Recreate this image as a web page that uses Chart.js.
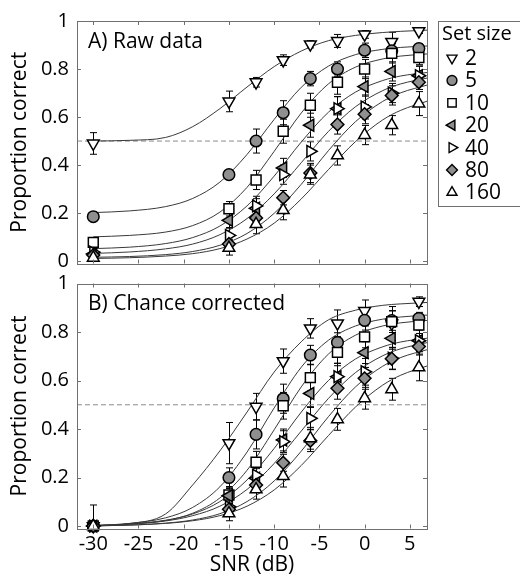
<!DOCTYPE html>
<html>
<head>
<meta charset="utf-8">
<script src="https://cdn.jsdelivr.net/npm/chart.js@4.4.1/dist/chart.umd.min.js"></script>
<style>
    html, body { margin: 0; padding: 0; background: #fff; }
    #wrap { position: relative; width: 520px; height: 578px; }
    #chartRaw { position: absolute; left: 0; top: 0; }
    #chartCorr { position: absolute; left: 0; top: 266px; }
</style>
</head>
<body>
<div id="wrap">
    <canvas id="chartRaw" width="520" height="272"></canvas>
    <canvas id="chartCorr" width="520" height="312"></canvas>
</div>
<script>
// --- data ---
const setSizes = ['2', '5', '10', '20', '40', '80', '160'];
const snr = [-30, -15, -12, -9, -6, -3, 0, 3, 6];
const xTicks = [-30, -25, -20, -15, -10, -5, 0, 5];
const yTicks = [0, 0.2, 0.4, 0.6, 0.8, 1];
const chanceLevel = 0.5;

// A) raw proportion correct
const raw2 = [0.49, 0.665, 0.745, 0.837, 0.903, 0.917, 0.944, 0.913, 0.958];
const raw5 = [0.185, 0.36, 0.50, 0.618, 0.76, 0.80, 0.878, 0.876, 0.885];
const raw10 = [0.078, 0.218, 0.338, 0.541, 0.649, 0.745, 0.80, 0.865, 0.848];
const raw20 = [0.03, 0.17, 0.22, 0.388, 0.566, 0.635, 0.727, 0.79, 0.772];
const raw40 = [0.037, 0.107, 0.23, 0.36, 0.457, 0.635, 0.642, 0.70, 0.772];
const raw80 = [0.025, 0.071, 0.18, 0.264, 0.367, 0.569, 0.612, 0.69, 0.745];
const raw160 = [0.014, 0.055, 0.154, 0.212, 0.36, 0.44, 0.525, 0.566, 0.656];

const rawErr2 = [0.045, 0.043, 0.02, 0.022, 0.015, 0.027, 0.016, 0.04, 0.01];
const rawErr5 = [0.02, 0.02, 0.05, 0.05, 0.03, 0.03, 0.03, 0.03, 0.02];
const rawErr10 = [0.01, 0.03, 0.04, 0.05, 0.05, 0.05, 0.04, 0.04, 0.03];
const rawErr20 = [0.01, 0.03, 0.04, 0.04, 0.05, 0.05, 0.04, 0.04, 0.04];
const rawErr40 = [0.01, 0.03, 0.04, 0.04, 0.04, 0.05, 0.05, 0.04, 0.04];
const rawErr80 = [0.01, 0.02, 0.03, 0.03, 0.04, 0.04, 0.04, 0.04, 0.03];
const rawErr160 = [0.01, 0.03, 0.04, 0.04, 0.04, 0.04, 0.04, 0.04, 0.05];

// B) chance corrected
const cor2 = [0, 0.342, 0.492, 0.68, 0.815, 0.836, 0.887, 0.835, 0.925];
const cor5 = [0, 0.20, 0.378, 0.525, 0.705, 0.757, 0.848, 0.847, 0.856];
const cor10 = [0, 0.128, 0.263, 0.496, 0.612, 0.716, 0.78, 0.843, 0.829];
const cor20 = [0, 0.125, 0.197, 0.355, 0.547, 0.616, 0.715, 0.774, 0.764];
const cor40 = [0, 0.08, 0.21, 0.348, 0.444, 0.616, 0.636, 0.692, 0.764];
const cor80 = [0, 0.069, 0.169, 0.261, 0.352, 0.568, 0.609, 0.69, 0.74];
const cor160 = [0, 0.052, 0.151, 0.206, 0.362, 0.44, 0.527, 0.564, 0.654];

const corErr2 = [0.087, 0.085, 0.055, 0.05, 0.04, 0.055, 0.045, 0.07, 0.02];
const corErr5 = [0.01, 0.04, 0.06, 0.06, 0.04, 0.04, 0.04, 0.04, 0.025];
const corErr10 = [0.01, 0.035, 0.045, 0.055, 0.055, 0.055, 0.045, 0.045, 0.035];
const corErr20 = [0.01, 0.03, 0.04, 0.045, 0.055, 0.055, 0.045, 0.045, 0.045];
const corErr40 = [0.01, 0.03, 0.04, 0.045, 0.045, 0.055, 0.055, 0.045, 0.045];
const corErr80 = [0.01, 0.025, 0.03, 0.035, 0.045, 0.045, 0.045, 0.045, 0.035];
const corErr160 = [0.01, 0.03, 0.04, 0.045, 0.045, 0.045, 0.045, 0.045, 0.055];

// fitted psychometric curves, sampled along SNR
const fitSnr = [-30, -26, -22, -19, -16, -13, -10, -7, -4, -1, 2, 4, 7];
const fitRaw2 = [0.50, 0.503, 0.515, 0.56, 0.635, 0.725, 0.81, 0.875, 0.918, 0.94, 0.952, 0.957, 0.962];
const fitRaw5 = [0.202, 0.209, 0.227, 0.261, 0.329, 0.444, 0.590, 0.724, 0.812, 0.860, 0.882, 0.890, 0.896];
const fitRaw10 = [0.101, 0.107, 0.121, 0.148, 0.204, 0.307, 0.457, 0.617, 0.738, 0.808, 0.842, 0.854, 0.863];
const fitRaw20 = [0.052, 0.058, 0.073, 0.098, 0.146, 0.230, 0.354, 0.496, 0.620, 0.704, 0.752, 0.771, 0.786];
const fitRaw40 = [0.032, 0.038, 0.051, 0.071, 0.110, 0.177, 0.280, 0.410, 0.540, 0.643, 0.710, 0.738, 0.763];
const fitRaw80 = [0.016, 0.019, 0.027, 0.040, 0.066, 0.115, 0.199, 0.320, 0.460, 0.581, 0.665, 0.701, 0.734];
const fitRaw160 = [0.011, 0.014, 0.021, 0.031, 0.052, 0.092, 0.158, 0.259, 0.381, 0.498, 0.588, 0.628, 0.667];

const fitCor2 = [0.0, 0.01, 0.05, 0.17, 0.31, 0.47, 0.635, 0.76, 0.85, 0.89, 0.91, 0.916, 0.922];
const fitCor5 = [0.002, 0.011, 0.034, 0.077, 0.162, 0.305, 0.487, 0.655, 0.766, 0.825, 0.853, 0.862, 0.870];
const fitCor10 = [0.001, 0.008, 0.023, 0.053, 0.116, 0.230, 0.397, 0.574, 0.709, 0.787, 0.825, 0.838, 0.848];
const fitCor20 = [0.002, 0.009, 0.024, 0.050, 0.101, 0.190, 0.320, 0.470, 0.600, 0.689, 0.739, 0.759, 0.775];
const fitCor40 = [0.002, 0.008, 0.021, 0.043, 0.082, 0.151, 0.258, 0.392, 0.526, 0.633, 0.702, 0.731, 0.757];
const fitCor80 = [0.001, 0.004, 0.012, 0.025, 0.051, 0.101, 0.186, 0.309, 0.451, 0.574, 0.659, 0.695, 0.728];
const fitCor160 = [0.001, 0.004, 0.011, 0.022, 0.043, 0.082, 0.149, 0.250, 0.373, 0.491, 0.581, 0.622, 0.661];

// --- styling ---
const FONT = "'Open Sans', sans-serif";
const GREY_FILL = '#8f8f8f';
const FRAME = '#707070';
const markerStyles = [
    { style: 'triangle', rotation: 180, radius: 6.8, fill: '#fff' },
    { style: 'circle', rotation: 0, radius: 5.8, fill: GREY_FILL },
    { style: 'rect', rotation: 0, radius: 7, fill: '#fff' },
    { style: 'triangle', rotation: -90, radius: 6.8, fill: GREY_FILL },
    { style: 'triangle', rotation: 90, radius: 6.8, fill: '#fff' },
    { style: 'rectRot', rotation: 0, radius: 6.4, fill: GREY_FILL },
    { style: 'triangle', rotation: 0, radius: 6.8, fill: '#fff' }
];
const SNR_MIN = -31.8;
const SNR_MAX = 6.9;

Chart.defaults.font.family = FONT;
Chart.defaults.color = '#000';

// error bars, drawn under the markers
const errorBars = {
    id: 'errorBars',
    beforeDatasetsDraw(chart) {
        const ctx = chart.ctx;
        const xs = chart.scales.x;
        const ys = chart.scales.y;
        ctx.save();
        ctx.strokeStyle = '#000';
        ctx.lineWidth = 1;
        chart.data.datasets.forEach(ds => {
            if (!ds.errors) return;
            ds.data.forEach((p, i) => {
                const e = ds.errors[i];
                const x = Math.round(xs.getPixelForValue(p.x)) + 0.5;
                const yTop = ys.getPixelForValue(p.y + e);
                const yBot = Math.min(ys.getPixelForValue(p.y - e), chart.chartArea.bottom);
                ctx.beginPath();
                ctx.moveTo(x, yTop);
                ctx.lineTo(x, yBot);
                ctx.moveTo(x - 3.5, yTop);
                ctx.lineTo(x + 3.5, yTop);
                if (yBot < chart.chartArea.bottom) {
                    ctx.moveTo(x - 3.5, yBot);
                    ctx.lineTo(x + 3.5, yBot);
                }
                ctx.stroke();
            });
        });
        ctx.restore();
    }
};

// MATLAB-like box with inward ticks
const boxFrame = {
    id: 'boxFrame',
    afterDatasetsDraw(chart) {
        const { ctx, chartArea: a } = chart;
        const xs = chart.scales.x;
        const ys = chart.scales.y;
        ctx.save();
        ctx.strokeStyle = FRAME;
        ctx.lineWidth = 1;
        ctx.strokeRect(Math.round(a.left) + 0.5, Math.round(a.top) + 0.5,
            Math.round(a.right - a.left), Math.round(a.bottom - a.top));
        ctx.beginPath();
        xTicks.forEach(v => {
            const x = Math.round(xs.getPixelForValue(v)) + 0.5;
            ctx.moveTo(x, a.bottom); ctx.lineTo(x, a.bottom - 4);
            ctx.moveTo(x, a.top); ctx.lineTo(x, a.top + 4);
        });
        yTicks.forEach(v => {
            const y = Math.round(ys.getPixelForValue(v)) + 0.5;
            ctx.moveTo(a.left, y); ctx.lineTo(a.left + 4, y);
            ctx.moveTo(a.right, y); ctx.lineTo(a.right - 4, y);
        });
        ctx.stroke();
        ctx.restore();
    }
};

const panelLabel = {
    id: 'panelLabel',
    afterDraw(chart, args, opts) {
        const { ctx, chartArea: a } = chart;
        ctx.save();
        ctx.fillStyle = '#000';
        ctx.font = '21px ' + FONT;
        ctx.textBaseline = 'middle';
        ctx.fillText(opts.text, a.left + 11, a.top + 21);
        ctx.restore();
    }
};

const setSizeLegend = {
    id: 'setSizeLegend',
    afterDraw(chart, args, opts) {
        if (!opts.show) return;
        const { ctx, chartArea: a } = chart;
        const left = a.right + 11;
        ctx.save();
        ctx.strokeStyle = FRAME;
        ctx.lineWidth = 1;
        ctx.strokeRect(Math.round(left) + 0.5, 21.5, 100, 185);
        ctx.fillStyle = '#000';
        ctx.textBaseline = 'middle';
        ctx.font = '20px ' + FONT;
        ctx.fillText('Set size', left + 4, 34);
        ctx.font = '21px ' + FONT;
        setSizes.forEach((label, i) => {
            const y = 58 + i * 22.4;
            const st = markerStyles[i];
            ctx.fillStyle = st.fill;
            ctx.strokeStyle = '#000';
            ctx.lineWidth = 1.4;
            Chart.helpers.drawPoint(ctx, {
                pointStyle: st.style, rotation: st.rotation,
                radius: st.radius * 0.85, borderWidth: 1.4
            }, left + 14, y);
            ctx.fillStyle = '#000';
            ctx.fillText(label, left + 27, y + 1);
        });
        ctx.restore();
    }
};

function buildDatasets(values, errors, fits) {
    const datasets = [{
        data: [{ x: SNR_MIN, y: chanceLevel }, { x: SNR_MAX, y: chanceLevel }],
        showLine: true,
        borderColor: '#8a8a8a',
        borderWidth: 1,
        borderDash: [5, 3],
        pointRadius: 0,
        order: 1000
    }];
    fits.forEach(fit => {
        datasets.push({
            data: fitSnr.map((x, j) => ({ x, y: fit[j] })),
            showLine: true,
            borderColor: '#3a3a3a',
            borderWidth: 1,
            pointRadius: 0,
            cubicInterpolationMode: 'monotone',
            order: 500
        });
    });
    values.forEach((vals, i) => {
        const st = markerStyles[i];
        datasets.push({
            label: setSizes[i],
            data: snr.map((x, j) => ({ x, y: vals[j] })),
            errors: errors[i],
            showLine: false,
            pointStyle: st.style,
            pointRotation: st.rotation,
            pointRadius: st.radius,
            pointHoverRadius: st.radius,
            pointBackgroundColor: st.fill,
            pointBorderColor: '#000',
            pointBorderWidth: 1.5,
            clip: false,
            order: 100 - i
        });
    });
    return datasets;
}

function crearGrafico(canvasId, values, errors, fits, cfg) {
    const ctx = document.getElementById(canvasId).getContext('2d');
    return new Chart(ctx, {
        type: 'scatter',
        data: { datasets: buildDatasets(values, errors, fits) },
        plugins: [errorBars, boxFrame, panelLabel, setSizeLegend],
        options: {
            responsive: false,
            animation: false,
            events: [],
            layout: { padding: { top: cfg.padTop, right: 93, bottom: 0, left: 0 } },
            plugins: {
                legend: { display: false },
                tooltip: { enabled: false },
                panelLabel: { text: cfg.label },
                setSizeLegend: { show: cfg.legend }
            },
            scales: {
                x: {
                    type: 'linear',
                    min: SNR_MIN,
                    max: SNR_MAX,
                    grid: { display: false, drawTicks: false },
                    border: { display: false },
                    afterBuildTicks: s => { s.ticks = xTicks.map(v => ({ value: v })); },
                    afterFit: s => { s.height = cfg.xHeight; s.paddingLeft = 0; s.paddingRight = 0; },
                    ticks: {
                        display: cfg.xLabels,
                        padding: 4,
                        maxRotation: 0,
                        font: { size: 20 },
                        callback: v => String(v)
                    },
                    title: {
                        display: cfg.xLabels,
                        text: 'SNR (dB)',
                        font: { size: 21 },
                        padding: { top: 0, bottom: 0.5 }
                    }
                },
                y: {
                    type: 'linear',
                    min: -0.01,
                    max: 1,
                    grid: { display: false, drawTicks: false },
                    border: { display: false },
                    afterBuildTicks: s => { s.ticks = yTicks.map(v => ({ value: v })); },
                    afterFit: s => { s.width = 77; s.paddingTop = 0; s.paddingBottom = 0; },
                    ticks: {
                        padding: 8,
                        font: { size: 20 },
                        callback: v => String(+v.toFixed(1))
                    },
                    title: {
                        display: true,
                        text: 'Proportion correct',
                        font: { size: 21 },
                        padding: { top: 7.5, bottom: 0 }
                    }
                }
            }
        }
    });
}

crearGrafico('chartRaw',
    [raw2, raw5, raw10, raw20, raw40, raw80, raw160],
    [rawErr2, rawErr5, rawErr10, rawErr20, rawErr40, rawErr80, rawErr160],
    [fitRaw2, fitRaw5, fitRaw10, fitRaw20, fitRaw40, fitRaw80, fitRaw160],
    { padTop: 21, xHeight: 6, xLabels: false, label: 'A) Raw data', legend: true });

crearGrafico('chartCorr',
    [cor2, cor5, cor10, cor20, cor40, cor80, cor160],
    [corErr2, corErr5, corErr10, corErr20, corErr40, corErr80, corErr160],
    [fitCor2, fitCor5, fitCor10, fitCor20, fitCor40, fitCor80, fitCor160],
    { padTop: 17.5, xHeight: 49.5, xLabels: true, label: 'B) Chance corrected', legend: false });
</script>
</body>
</html>
